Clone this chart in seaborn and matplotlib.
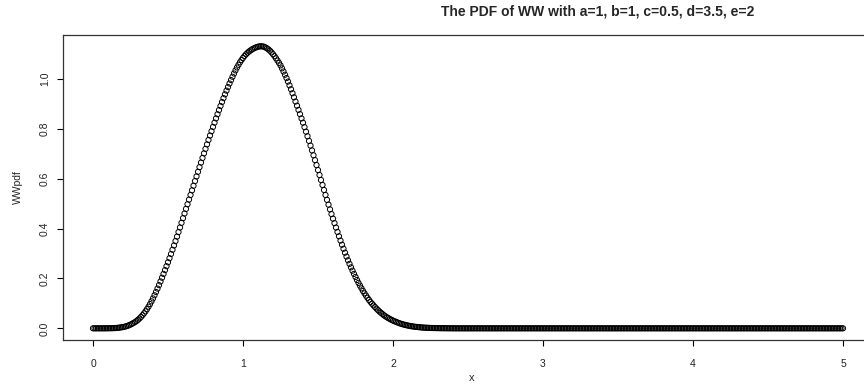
import numpy as np
import matplotlib
matplotlib.use("Agg")
import matplotlib.pyplot as plt
import seaborn as sns

# grid of x values: 0 to 5 by 0.01 (501 points)
x_start, x_end, n_points = 0.0, 5.0, 501

# WW pdf, x = 0.00 .. 2.40
pdf_head = [
    0.0, 0.0, 0.0, 0.0, 0.0, 0.0, 0.0, 0.0, 0.0001, 0.0001,
    0.0002, 0.0003, 0.0004, 0.0006, 0.0009, 0.0012, 0.0017, 0.0023, 0.0031, 0.0040,
    0.0050, 0.0064, 0.0080, 0.0100, 0.0123, 0.0150, 0.0180, 0.0214, 0.0252, 0.0294,
    0.0340, 0.0396, 0.0458, 0.0526, 0.0600, 0.0680, 0.0770, 0.0868, 0.0972, 0.1082,
    0.1200, 0.1326, 0.1458, 0.1594, 0.1734, 0.1880, 0.2030, 0.2182, 0.2336, 0.2492,
    0.2650, 0.2814, 0.2982, 0.3152, 0.3324, 0.3500, 0.3680, 0.3862, 0.4046, 0.4232,
    0.4420, 0.4606, 0.4792, 0.4978, 0.5164, 0.5350, 0.5536, 0.5722, 0.5908, 0.6094,
    0.6280, 0.6466, 0.6651, 0.6835, 0.7018, 0.7200, 0.7380, 0.7558, 0.7734, 0.7908,
    0.8080, 0.8252, 0.8422, 0.8590, 0.8756, 0.8920, 0.9080, 0.9236, 0.9388, 0.9536,
    0.9680, 0.9822, 0.9960, 1.0094, 1.0224, 1.0350, 1.0466, 1.0574, 1.0674, 1.0766,
    1.0850, 1.0926, 1.0994, 1.1054, 1.1106, 1.1150, 1.1190, 1.1224, 1.1254, 1.1280,
    1.1300, 1.1312, 1.1316, 1.1312, 1.1298, 1.1270, 1.1234, 1.1190, 1.1136, 1.1072,
    1.1000, 1.0920, 1.0834, 1.0744, 1.0650, 1.0550, 1.0430, 1.0304, 1.0174, 1.0040,
    0.9900, 0.9748, 0.9592, 0.9432, 0.9268, 0.9100, 0.8932, 0.8763, 0.8593, 0.8422,
    0.8250, 0.8072, 0.7890, 0.7706, 0.7520, 0.7330, 0.7138, 0.6944, 0.6748, 0.6550,
    0.6350, 0.6150, 0.5950, 0.5750, 0.5550, 0.5350, 0.5154, 0.4961, 0.4771, 0.4584,
    0.4400, 0.4220, 0.4042, 0.3866, 0.3692, 0.3520, 0.3354, 0.3192, 0.3034, 0.2880,
    0.2730, 0.2586, 0.2447, 0.2313, 0.2184, 0.2060, 0.1940, 0.1824, 0.1712, 0.1604,
    0.1500, 0.1404, 0.1312, 0.1224, 0.1140, 0.1060, 0.0988, 0.0919, 0.0853, 0.0790,
    0.0730, 0.0674, 0.0622, 0.0572, 0.0524, 0.0480, 0.0442, 0.0406, 0.0372, 0.0340,
    0.0310, 0.0283, 0.0258, 0.0234, 0.0211, 0.0190, 0.0171, 0.0154, 0.0138, 0.0123,
    0.0110, 0.0098, 0.0087, 0.0077, 0.0068, 0.0060, 0.0054, 0.0048, 0.0042, 0.0036,
    0.0030, 0.0027, 0.0024, 0.0021, 0.0018, 0.0015, 0.0013, 0.0011, 0.0010, 0.0008,
    0.0007, 0.0006, 0.0005, 0.0004, 0.0004, 0.0003, 0.0002, 0.0002, 0.0002, 0.0001,
    0.0001,
]
# x = 2.41 .. 5.00, flat at zero
pdf_tail = [0.0] * 260

x_ticks = [0, 1, 2, 3, 4, 5]
y_ticks = [0.0, 0.2, 0.4, 0.6, 0.8, 1.0]
y_tick_labels = ["0.0", "0.2", "0.4", "0.6", "0.8", "1.0"]

title = "The PDF of WW with a=1, b=1, c=0.5, d=3.5, e=2"

xs = np.linspace(x_start, x_end, n_points)
ys = np.array(pdf_head + pdf_tail)

sns.set_style("ticks")
plt.rcParams["font.family"] = ["Liberation Sans", "DejaVu Sans"]

fig = plt.figure(figsize=(8.64, 3.88), dpi=100)
# R-style plot region (right edge runs off the picture)
ax = fig.add_axes([63.0 / 864, 48.4 / 388, 810.0 / 864, 304.6 / 388])

sns.scatterplot(x=xs, y=ys, ax=ax, s=14, color="black", linewidth=0.7, legend=False)
pts = ax.collections[0]
pts.set_facecolor("none")
pts.set_edgecolor("black")

# R's 4% range extension
pad_y = 0.04 * ys.max()
ax.set_xlim(-0.2, 5.2)
ax.set_ylim(-pad_y, ys.max() + pad_y)

ax.set_xticks(x_ticks)
ax.set_yticks(y_ticks)
ax.set_yticklabels(y_tick_labels)
ax.tick_params(axis="both", length=4.3, width=0.8, color="black",
               labelsize=7.5, labelcolor="#222222")
ax.tick_params(axis="x", pad=10)
ax.tick_params(axis="y", pad=5)
for lab in ax.get_yticklabels():
    lab.set_rotation(90)
    lab.set_va("center")

for sp in ax.spines.values():
    sp.set_color("#333333")
    sp.set_linewidth(0.9)
ax.spines["right"].set_visible(False)

ax.set_xlabel("")
ax.set_ylabel("")
fig.text(472 / 864, 1 - 378 / 388, "x", ha="center", va="center", fontsize=8)
fig.text(18 / 864, 1 - 187 / 388, "WWpdf", ha="center", va="center",
         rotation=90, fontsize=7.5)
fig.text(598 / 864, 1 - 11 / 388, title, ha="center", va="center",
         fontsize=10, fontweight="bold")

fig.savefig("out.png", dpi=100)
